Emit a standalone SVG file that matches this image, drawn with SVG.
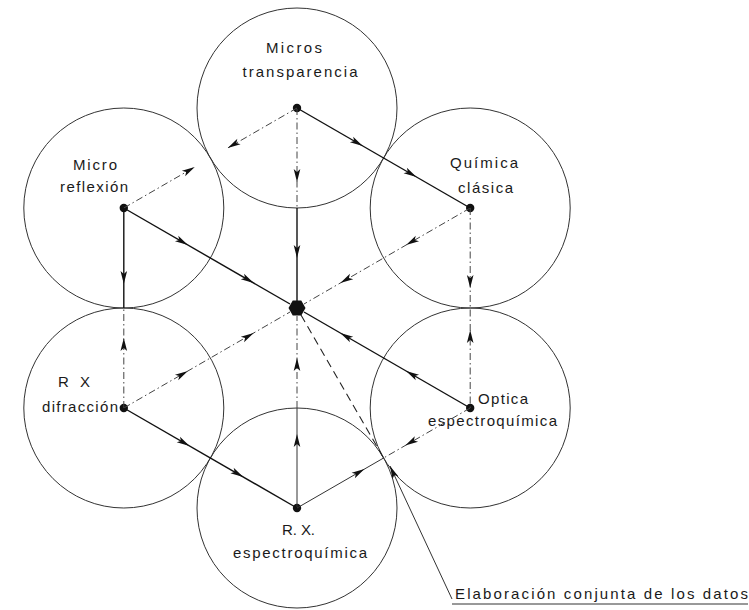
<svg xmlns="http://www.w3.org/2000/svg" xmlns:xlink="http://www.w3.org/1999/xlink" width="749" height="610" viewBox="0 0 749 610">
<style>
.c{fill:none;stroke:#333;stroke-width:1}
.dot{fill:#111}
.t{font-family:"Liberation Sans",Arial,sans-serif;font-size:15px;fill:#1a1a1a}
.s{fill:none;stroke:#111;stroke-width:1.4}
.st{fill:none;stroke:#333;stroke-width:1}
.dd{fill:none;stroke:#444;stroke-width:1;stroke-dasharray:7 3 1.5 3}
.d{fill:none;stroke:#222;stroke-width:1.1;stroke-dasharray:8 5}
.a{fill:#111}
</style>
<defs>
<path id="ah" d="M0,0 L-13,-3.3 L-10,0 L-13,3.3 Z"/>
</defs>
<rect width="749" height="610" fill="#fff"/>

<g id="node-micros-transparencia">
<circle class="c" cx="297" cy="108" r="100"/>
<circle class="dot" cx="297" cy="108" r="4.2"/>
<text class="t" x="294" y="53" text-anchor="middle" textLength="56" lengthAdjust="spacing">Micros</text>
<text class="t" x="300" y="77" text-anchor="middle" textLength="115" lengthAdjust="spacing">transparencia</text>
</g>

<g id="node-micro-reflexion">
<circle class="c" cx="123.8" cy="208" r="100"/>
<circle class="dot" cx="123.8" cy="208" r="4.2"/>
<text class="t" x="95" y="170" text-anchor="middle" textLength="44" lengthAdjust="spacing">Micro</text>
<text class="t" x="94" y="192" text-anchor="middle" textLength="68" lengthAdjust="spacing">reflexión</text>
</g>

<g id="node-quimica-clasica">
<circle class="c" cx="470.2" cy="208" r="100"/>
<circle class="dot" cx="470.2" cy="208" r="4.2"/>
<text class="t" x="484" y="168" text-anchor="middle" textLength="68" lengthAdjust="spacing">Química</text>
<text class="t" x="485.5" y="193" text-anchor="middle" textLength="55" lengthAdjust="spacing">clásica</text>
</g>

<g id="node-rx-difraccion">
<circle class="c" cx="123.8" cy="408" r="100"/>
<circle class="dot" cx="123.8" cy="408" r="4.2"/>
<text class="t" x="74" y="387" text-anchor="middle" textLength="32" lengthAdjust="spacing" xml:space="preserve">R  X</text>
<text class="t" x="80" y="412" text-anchor="middle" textLength="76" lengthAdjust="spacing">difracción</text>
</g>

<g id="node-optica-espectroquimica">
<circle class="c" cx="470.2" cy="408" r="100"/>
<circle class="dot" cx="470.2" cy="408" r="4.2"/>
<text class="t" x="478" y="404" textLength="50" lengthAdjust="spacing">Optica</text>
<text class="t" x="428" y="426" textLength="129" lengthAdjust="spacing">espectroquímica</text>
</g>

<g id="node-rx-espectroquimica">
<circle class="c" cx="297" cy="508" r="100"/>
<circle class="dot" cx="297" cy="508" r="4.2"/>
<text class="t" x="298.5" y="535" text-anchor="middle" textLength="33" lengthAdjust="spacing">R. X.</text>
<text class="t" x="300" y="558" text-anchor="middle" textLength="134" lengthAdjust="spacing">espectroquímica</text>
</g>

<g id="node-centro">
<polygon class="dot" points="305.5,308 301.25,315.4 292.75,315.4 288.5,308 292.75,300.6 301.25,300.6"/>
</g>

<g id="connectors">
<!-- radial lines -->
<line class="dd" x1="297" y1="108" x2="297" y2="208"/>
<line class="s" x1="297" y1="208" x2="297" y2="301"/>
<line class="st" x1="297" y1="508" x2="297" y2="408"/>
<line class="dd" x1="297" y1="408" x2="297" y2="316"/>
<line class="s" x1="123.8" y1="208" x2="290" y2="304"/>
<line class="dd" x1="470.2" y1="208" x2="304" y2="304"/>
<line class="dd" x1="123.8" y1="408" x2="290" y2="312"/>
<line class="s" x1="470.2" y1="408" x2="304" y2="312"/>
<!-- perimeter lines -->
<line class="s" x1="297" y1="108" x2="470.2" y2="208"/>
<line class="s" x1="123.8" y1="408" x2="297" y2="508"/>
<line class="dd" x1="297" y1="108" x2="227.7" y2="148"/>
<line class="dd" x1="123.8" y1="208" x2="194.8" y2="167"/>
<line class="s" x1="123.8" y1="208" x2="123.8" y2="308"/>
<line class="dd" x1="123.8" y1="408" x2="123.8" y2="308"/>
<line class="dd" x1="470.2" y1="208" x2="470.2" y2="408"/>
<line class="st" x1="297" y1="508" x2="383.6" y2="458"/>
<line class="dd" x1="470.2" y1="408" x2="383.6" y2="458"/>
<!-- joint elaboration -->
<line class="d" x1="301" y1="315" x2="383.6" y2="458"/>
<line class="st" x1="390" y1="466" x2="452" y2="599"/>
<line class="st" x1="452" y1="604" x2="748" y2="604"/>
<!-- arrowheads -->
<use xlink:href="#ah" class="a" transform="translate(297,182) rotate(90)"/>
<use xlink:href="#ah" class="a" transform="translate(297,258) rotate(90)"/>
<use xlink:href="#ah" class="a" transform="translate(297,434) rotate(-90)"/>
<use xlink:href="#ah" class="a" transform="translate(297,358) rotate(-90)"/>
<use xlink:href="#ah" class="a" transform="translate(187.9,245) rotate(30)"/>
<use xlink:href="#ah" class="a" transform="translate(253.7,283) rotate(30)"/>
<use xlink:href="#ah" class="a" transform="translate(406.1,245) rotate(150)"/>
<use xlink:href="#ah" class="a" transform="translate(340.3,283) rotate(150)"/>
<use xlink:href="#ah" class="a" transform="translate(187.9,371) rotate(-30)"/>
<use xlink:href="#ah" class="a" transform="translate(253.7,333) rotate(-30)"/>
<use xlink:href="#ah" class="a" transform="translate(406.1,371) rotate(-150)"/>
<use xlink:href="#ah" class="a" transform="translate(340.3,333) rotate(-150)"/>
<use xlink:href="#ah" class="a" transform="translate(362.8,146) rotate(30)"/>
<use xlink:href="#ah" class="a" transform="translate(416.5,177) rotate(30)"/>
<use xlink:href="#ah" class="a" transform="translate(189.6,446) rotate(30)"/>
<use xlink:href="#ah" class="a" transform="translate(243.3,477) rotate(30)"/>
<use xlink:href="#ah" class="a" transform="translate(227.7,148) rotate(150)"/>
<use xlink:href="#ah" class="a" transform="translate(194.8,167) rotate(-30)"/>
<use xlink:href="#ah" class="a" transform="translate(123.8,284) rotate(90)"/>
<use xlink:href="#ah" class="a" transform="translate(123.8,338) rotate(-90)"/>
<use xlink:href="#ah" class="a" transform="translate(470.2,288) rotate(90)"/>
<use xlink:href="#ah" class="a" transform="translate(470.2,330) rotate(-90)"/>
<use xlink:href="#ah" class="a" transform="translate(364.5,469) rotate(-30)"/>
<use xlink:href="#ah" class="a" transform="translate(405.2,445.5) rotate(150)"/>
<use xlink:href="#ah" class="a" transform="translate(390,466) rotate(245)"/>
</g>

<g id="label-elaboracion">
<text class="t" x="455" y="599" textLength="293" lengthAdjust="spacing">Elaboración conjunta de los datos</text>
</g>
</svg>
